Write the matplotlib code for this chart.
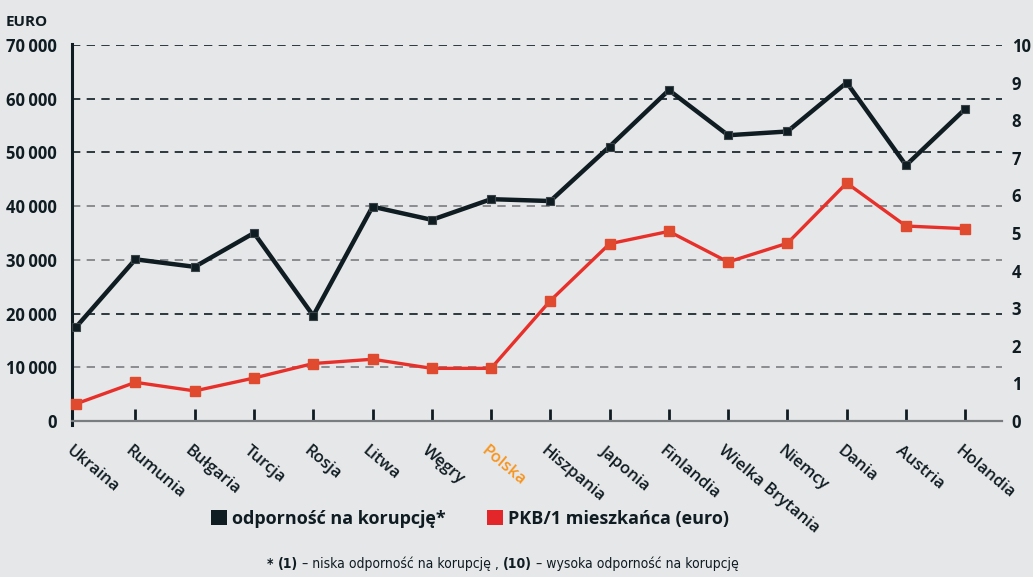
import matplotlib
matplotlib.use("Agg")
from matplotlib import pyplot as plt
from matplotlib.patches import Patch
from matplotlib.offsetbox import TextArea, HPacker, AnchoredOffsetbox

plt.rcParams["font.family"] = ["Open Sans", "DejaVu Sans"]

countries = ["Ukraina", "Rumunia", "Bułgaria", "Turcja", "Rosja", "Litwa", "Węgry", "Polska",
             "Hiszpania", "Japonia", "Finlandia", "Wielka Brytania", "Niemcy", "Dania",
             "Austria", "Holandia"]
# odporność na korupcję (skala 0-10, prawa oś)
corruption = [2.5, 4.3, 4.1, 5.0, 2.8, 5.7, 5.35, 5.9,
              5.85, 7.3, 8.8, 7.6, 7.7, 9.0, 6.8, 8.3]
# PKB na mieszkańca w euro (lewa oś)
gdp = [3200, 7200, 5600, 8000, 10700, 11500, 9800, 9800,
       22400, 33000, 35300, 29600, 33100, 44300, 36300, 35800]

left_ticks = [0, 10000, 20000, 30000, 40000, 50000, 60000, 70000]
left_labels = ["0", "10\u2009000", "20\u2009000", "30\u2009000", "40\u2009000",
               "50\u2009000", "60\u2009000", "70\u2009000"]
right_ticks = list(range(0, 11))

bg = "#e6e7e9"
dark = "#0f1c22"
red = "#e8302a"
red_marker = "#e04a2e"
grey = "#7a7d80"
grid_colors = [None, grey, dark, grey, grey, dark, dark, dark]

fig = plt.figure(figsize=(10.33, 5.77), dpi=100, facecolor=bg)
ax = fig.add_axes([72 / 1033, 1 - 421 / 577, 930 / 1033, 376 / 577])
ax.set_facecolor(bg)
x = list(range(len(countries)))

ax.set_xlim(-0.07, 15.62)
ax.set_ylim(0, 70000)
ax.set_yticks(left_ticks)
ax.set_yticklabels(left_labels, fontsize=12, fontweight="bold", color=dark)
ax.tick_params(axis="y", length=0, pad=11)

for val, col in zip(left_ticks, grid_colors):
    if col is None:
        continue
    ax.axhline(val, color=col, lw=1.2, ls=(0, (5, 3.8)), zorder=1)

for s in ["top", "right"]:
    ax.spines[s].set_visible(False)
ax.spines["left"].set_color(dark)
ax.spines["left"].set_linewidth(2.2)
ax.spines["left"].set_bounds(-800, 70200)
ax.spines["bottom"].set_color(grey)
ax.spines["bottom"].set_linewidth(1.6)

ax.set_xticks(x[1:])
ax.set_xticklabels([])
ax.tick_params(axis="x", direction="in", length=9, width=2, color=dark)

ax.plot(x, gdp, color=red, lw=2.4, marker="s", ms=6.5, mfc=red_marker, mec=red_marker,
        zorder=3, clip_on=False)

ax2 = ax.twinx()
ax2.set_ylim(0, 10)
ax2.set_yticks(right_ticks)
ax2.set_yticklabels([str(t) for t in right_ticks], fontsize=12, fontweight="bold", color=dark)
ax2.tick_params(axis="y", length=0, pad=7)
for s in ["top", "right", "left", "bottom"]:
    ax2.spines[s].set_visible(False)
ax2.plot(x, corruption, color=dark, lw=3.2, marker="s", ms=5.8, mfc=dark, mec="#3a4448",
         mew=0.8, zorder=4, clip_on=False)

# etykiety krajów
for i, name in enumerate(countries):
    ax.text(i - 0.05, -0.058, name, rotation=-40, rotation_mode="anchor", ha="left", va="top",
            fontsize=12, fontweight="semibold",
            color="#f7941d" if name == "Polska" else dark,
            transform=ax.get_xaxis_transform())

fig.text(6 / 1033, 1 - 22 / 577, "EURO", fontsize=11, fontweight="bold", color=dark, va="center")

handles = [Patch(facecolor=dark, edgecolor="none", label="odporność na korupcję*"),
           Patch(facecolor="#e3262a", edgecolor="none", label="PKB/1 mieszkańca (euro)")]
fig.legend(handles=handles, loc="center", bbox_to_anchor=(470 / 1033, 1 - 519 / 577), ncol=2,
           frameon=False, handlelength=0.9, handleheight=0.9, handletextpad=0.25,
           columnspacing=2.3, prop={"size": 13, "weight": "bold"}, labelcolor=dark)

parts = [("*", "bold"), ("(1)", "bold"), ("– niska odporność na korupcję ,", "normal"),
         ("(10)", "bold"), ("– wysoka odporność na korupcję", "normal")]
areas = [TextArea(t, textprops=dict(fontsize=10, fontweight=w, color=dark,
                                    family="DejaVu Sans", fontstretch="condensed"))
         for t, w in parts]
box = HPacker(children=areas, align="baseline", pad=0, sep=3)
anch = AnchoredOffsetbox(loc="center", child=box, pad=0, frameon=False,
                         bbox_to_anchor=(503 / 1033, 1 - 564 / 577),
                         bbox_transform=fig.transFigure, borderpad=0)
ax.add_artist(anch)

fig.savefig("out.png", dpi=100, facecolor=bg)
